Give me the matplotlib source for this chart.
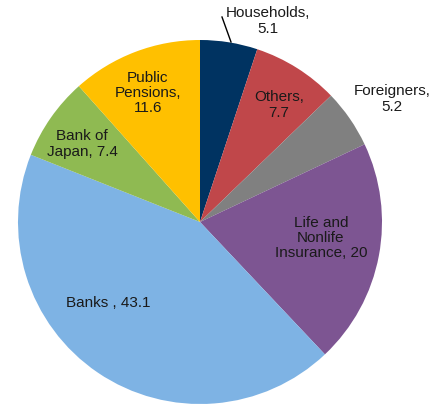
import matplotlib.pyplot as plt

plt.rcParams['font.family'] = ['Liberation Sans', 'DejaVu Sans']

# holdings share by investor type
categories = ['Households', 'Others', 'Foreigners', 'Life and\nNonlife\nInsurance',
              'Banks ', 'Bank of\nJapan', 'Public\nPensions']
shares = [5.1, 7.7, 5.2, 20, 43.1, 7.4, 11.6]
colors = ['#003361', '#C0474A', '#808080', '#7D5592', '#7EB3E4', '#8FBA52', '#FFC000']

W, H = 438, 404
fig = plt.figure(figsize=(W / 100, H / 100), dpi=100)
ax = fig.add_axes([0, 0, 1, 1])

cx, cy, r = 200, 222, 182
ax.pie(shares, colors=colors, startangle=-90, counterclock=True,
       center=(cx, cy), radius=r, frame=True,
       wedgeprops=dict(linewidth=0))
ax.set_xlim(0, W)
ax.set_ylim(H, 0)
ax.set_aspect('equal')
ax.axis('off')

# label anchor points (pixels)
label_xy = [(268, 21), (279, 105), (392, 99), (321, 238), (108, 303), (82, 144), (148, 93)]

def label_text(name, v):
    if name in ('Households', 'Others', 'Foreigners'):
        return '%s,\n%g' % (name, v)
    if name.startswith('Public'):
        return 'Public\nPensions,\n%g' % v
    return '%s, %g' % (name, v)

for name, v, (x, y) in zip(categories, shares, label_xy):
    ax.text(x, y, label_text(name, v), ha='center', va='center',
            fontsize=11, color='#1a1a1a', linespacing=1.12)

# leader line for the small households slice
ax.plot([222, 231], [17, 42], color='black', lw=1)

fig.savefig('out.png', dpi=100)
